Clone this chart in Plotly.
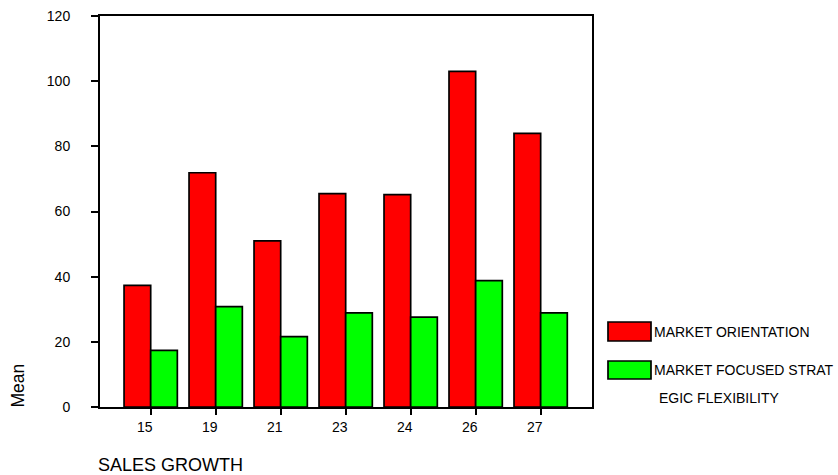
import plotly.graph_objects as go

categories = ["15", "19", "21", "23", "24", "26", "27"]
market_orientation = [37.3, 71.9, 51.0, 65.5, 65.2, 103.0, 84.0]
market_focused = [17.4, 30.8, 21.6, 28.9, 27.6, 38.8, 28.9]
y_ticks = [0, 20, 40, 60, 80, 100, 120]
series_names = ["MARKET ORIENTATION", "MARKET FOCUSED STRAT", "EGIC FLEXIBILITY"]
colors = ["#FF0000", "#00FF00"]

W, H = 838, 475
L, R, T, B = 100, 592, 16, 407
FONT = "Arial, Liberation Sans, sans-serif"


def px(x):
    return (x - L) / (R - L)


def py(y):
    return (B - y) / (B - T)


fig = go.Figure()
fig.add_trace(go.Bar(x=categories, y=market_orientation, name=series_names[0],
                     marker=dict(color=colors[0], line=dict(color="black", width=1.7)),
                     showlegend=False))
fig.add_trace(go.Bar(x=categories, y=market_focused, name=series_names[1] + series_names[2],
                     marker=dict(color=colors[1], line=dict(color="black", width=1.7)),
                     showlegend=False))

shapes = []
annotations = []
# legend swatches
for (y0, y1), c in zip([(322, 341), (361, 379)], colors):
    shapes.append(dict(type="rect", xref="paper", yref="paper",
                       x0=px(608), x1=px(651), y0=py(y1), y1=py(y0),
                       fillcolor=c, line=dict(color="black", width=1.7)))
for text, x, y in [(series_names[0], 653, 332), (series_names[1], 653, 370), (series_names[2], 658, 398)]:
    annotations.append(dict(text=text, xref="paper", yref="paper", x=px(x), y=py(y),
                            xanchor="left", yanchor="middle", showarrow=False, borderpad=0,
                            font=dict(family=FONT, size=14, color="black")))
annotations.append(dict(text="Mean", xref="paper", yref="paper", x=px(17), y=py(385.5),
                        xanchor="center", yanchor="middle", textangle=-90, showarrow=False,
                        borderpad=0, font=dict(family=FONT, size=17.5, color="black")))
annotations.append(dict(text="SALES GROWTH", xref="paper", yref="paper", x=px(97), y=py(465),
                        xanchor="left", yanchor="middle", showarrow=False, borderpad=0,
                        font=dict(family=FONT, size=18, color="black")))

fig.update_layout(
    width=W, height=H,
    margin=dict(l=L, r=W - R, t=T, b=H - B, autoexpand=False),
    paper_bgcolor="white", plot_bgcolor="white",
    barmode="group", bargap=0.18, bargroupgap=0,
    shapes=shapes, annotations=annotations,
    font=dict(family=FONT, size=14, color="black"),
    xaxis=dict(type="category", range=[-0.78, 6.79], showline=True, linecolor="black",
               linewidth=1.5, mirror=True, ticks="outside", ticklen=6, tickcolor="black",
               tickwidth=1.5, showgrid=False, ticklabelshift=-6,
               tickfont=dict(family=FONT, size=14, color="black")),
    yaxis=dict(range=[0, 120], tickvals=y_ticks, showline=True, linecolor="black",
               linewidth=2, mirror=True, ticks="outside", ticklen=7, tickcolor="black",
               tickwidth=1.5, showgrid=False, zeroline=False, ticklabelstandoff=18,
               tickfont=dict(family=FONT, size=14, color="black")),
)

fig.write_html("out.html", config={"displayModeBar": False},
               post_script="document.body.style.margin='0';")
